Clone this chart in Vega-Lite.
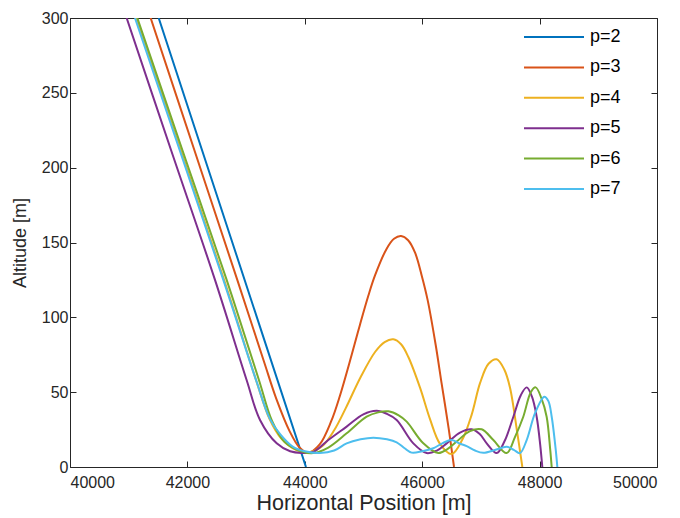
{
  "$schema": "https://vega.github.io/schema/vega-lite/v6.json",
  "width": 587,
  "height": 449,
  "autosize": {"type": "none"},
  "padding": {"left": 70, "top": 18, "right": 23, "bottom": 51},
  "background": "white",
  "config": {
    "view": {"stroke": null},
    "font": "Liberation Sans",
    "axis": {
      "grid": false,
      "domainColor": "#262626",
      "tickColor": "#262626",
      "labelColor": "#262626",
      "titleColor": "#262626",
      "labelFont": "Liberation Sans",
      "titleFont": "Liberation Sans",
      "titleFontWeight": "normal",
      "labelFontSize": 16,
      "tickSize": -6,
      "domainWidth": 1,
      "tickWidth": 1
    }
  },
  "datasets": {
    "curves": [
      {"p": "p=2", "x": 41511, "alt": 300},
      {"p": "p=2", "x": 42749, "alt": 152},
      {"p": "p=2", "x": 44020, "alt": 0},

      {"p": "p=3", "x": 41374, "alt": 300},
      {"p": "p=3", "x": 42118, "alt": 211.8},
      {"p": "p=3", "x": 42850, "alt": 125},
      {"p": "p=3", "x": 43300, "alt": 71},
      {"p": "p=3", "x": 43520, "alt": 45},
      {"p": "p=3", "x": 43740, "alt": 24},
      {"p": "p=3", "x": 43910, "alt": 13},
      {"p": "p=3", "x": 44055, "alt": 9.5},
      {"p": "p=3", "x": 44250, "alt": 14.9},
      {"p": "p=3", "x": 44450, "alt": 30.6},
      {"p": "p=3", "x": 44600, "alt": 47.8},
      {"p": "p=3", "x": 44800, "alt": 75.1},
      {"p": "p=3", "x": 44940, "alt": 95.1},
      {"p": "p=3", "x": 45082, "alt": 114.4},
      {"p": "p=3", "x": 45196, "alt": 128},
      {"p": "p=3", "x": 45395, "alt": 145.9},
      {"p": "p=3", "x": 45520, "alt": 152.5},
      {"p": "p=3", "x": 45640, "alt": 154.3},
      {"p": "p=3", "x": 45760, "alt": 151.5},
      {"p": "p=3", "x": 45880, "alt": 143},
      {"p": "p=3", "x": 45991, "alt": 128},
      {"p": "p=3", "x": 46093, "alt": 111.5},
      {"p": "p=3", "x": 46230, "alt": 81.5},
      {"p": "p=3", "x": 46330, "alt": 56},
      {"p": "p=3", "x": 46450, "alt": 26},
      {"p": "p=3", "x": 46542, "alt": 0},

      {"p": "p=4", "x": 41125, "alt": 300},
      {"p": "p=4", "x": 42625, "alt": 125},
      {"p": "p=4", "x": 43170, "alt": 58},
      {"p": "p=4", "x": 43400, "alt": 32},
      {"p": "p=4", "x": 43600, "alt": 19},
      {"p": "p=4", "x": 43850, "alt": 11.5},
      {"p": "p=4", "x": 44089, "alt": 10},
      {"p": "p=4", "x": 44300, "alt": 14},
      {"p": "p=4", "x": 44500, "alt": 24.5},
      {"p": "p=4", "x": 44700, "alt": 39.5},
      {"p": "p=4", "x": 44950, "alt": 60},
      {"p": "p=4", "x": 45200, "alt": 77},
      {"p": "p=4", "x": 45360, "alt": 83.5},
      {"p": "p=4", "x": 45508, "alt": 85.3},
      {"p": "p=4", "x": 45640, "alt": 82},
      {"p": "p=4", "x": 45764, "alt": 73.5},
      {"p": "p=4", "x": 45963, "alt": 53},
      {"p": "p=4", "x": 46133, "alt": 32},
      {"p": "p=4", "x": 46303, "alt": 15.5},
      {"p": "p=4", "x": 46502, "alt": 8.7},
      {"p": "p=4", "x": 46680, "alt": 18},
      {"p": "p=4", "x": 46843, "alt": 35},
      {"p": "p=4", "x": 46985, "alt": 56},
      {"p": "p=4", "x": 47130, "alt": 69},
      {"p": "p=4", "x": 47269, "alt": 72},
      {"p": "p=4", "x": 47400, "alt": 65},
      {"p": "p=4", "x": 47496, "alt": 53},
      {"p": "p=4", "x": 47621, "alt": 22.5},
      {"p": "p=4", "x": 47706, "alt": 0},

      {"p": "p=5", "x": 40965, "alt": 300},
      {"p": "p=5", "x": 41721, "alt": 211.8},
      {"p": "p=5", "x": 42470, "alt": 125},
      {"p": "p=5", "x": 43010, "alt": 58},
      {"p": "p=5", "x": 43237, "alt": 31.4},
      {"p": "p=5", "x": 43521, "alt": 15.8},
      {"p": "p=5", "x": 43750, "alt": 10.5},
      {"p": "p=5", "x": 43947, "alt": 9.4},
      {"p": "p=5", "x": 44150, "alt": 10.2},
      {"p": "p=5", "x": 44400, "alt": 18},
      {"p": "p=5", "x": 44713, "alt": 27},
      {"p": "p=5", "x": 44997, "alt": 35.2},
      {"p": "p=5", "x": 45225, "alt": 37.6},
      {"p": "p=5", "x": 45400, "alt": 35.5},
      {"p": "p=5", "x": 45565, "alt": 31.4},
      {"p": "p=5", "x": 45849, "alt": 15.8},
      {"p": "p=5", "x": 46076, "alt": 9.3},
      {"p": "p=5", "x": 46250, "alt": 11},
      {"p": "p=5", "x": 46417, "alt": 15.8},
      {"p": "p=5", "x": 46644, "alt": 23},
      {"p": "p=5", "x": 46843, "alt": 25.2},
      {"p": "p=5", "x": 46980, "alt": 22},
      {"p": "p=5", "x": 47099, "alt": 15.8},
      {"p": "p=5", "x": 47269, "alt": 9.3},
      {"p": "p=5", "x": 47400, "alt": 17},
      {"p": "p=5", "x": 47553, "alt": 33.6},
      {"p": "p=5", "x": 47680, "alt": 48},
      {"p": "p=5", "x": 47780, "alt": 53.2},
      {"p": "p=5", "x": 47870, "alt": 47},
      {"p": "p=5", "x": 47950, "alt": 33.6},
      {"p": "p=5", "x": 48010, "alt": 15},
      {"p": "p=5", "x": 48046, "alt": 0},

      {"p": "p=6", "x": 41147, "alt": 300},
      {"p": "p=6", "x": 41914, "alt": 211.8},
      {"p": "p=6", "x": 42669, "alt": 125},
      {"p": "p=6", "x": 43220, "alt": 58},
      {"p": "p=6", "x": 43440, "alt": 31},
      {"p": "p=6", "x": 43650, "alt": 17},
      {"p": "p=6", "x": 43900, "alt": 11},
      {"p": "p=6", "x": 44140, "alt": 9.3},
      {"p": "p=6", "x": 44400, "alt": 13},
      {"p": "p=6", "x": 44713, "alt": 22.5},
      {"p": "p=6", "x": 45054, "alt": 33.6},
      {"p": "p=6", "x": 45250, "alt": 36.5},
      {"p": "p=6", "x": 45423, "alt": 37.2},
      {"p": "p=6", "x": 45600, "alt": 34.5},
      {"p": "p=6", "x": 45736, "alt": 30.3},
      {"p": "p=6", "x": 46019, "alt": 15.8},
      {"p": "p=6", "x": 46274, "alt": 9.3},
      {"p": "p=6", "x": 46430, "alt": 12},
      {"p": "p=6", "x": 46587, "alt": 17},
      {"p": "p=6", "x": 46814, "alt": 24},
      {"p": "p=6", "x": 47013, "alt": 25.2},
      {"p": "p=6", "x": 47212, "alt": 18},
      {"p": "p=6", "x": 47439, "alt": 9.3},
      {"p": "p=6", "x": 47580, "alt": 20},
      {"p": "p=6", "x": 47722, "alt": 33.6},
      {"p": "p=6", "x": 47850, "alt": 50},
      {"p": "p=6", "x": 47933, "alt": 53.2},
      {"p": "p=6", "x": 48030, "alt": 46},
      {"p": "p=6", "x": 48120, "alt": 33.6},
      {"p": "p=6", "x": 48180, "alt": 12},
      {"p": "p=6", "x": 48206, "alt": 0},

      {"p": "p=7", "x": 41107, "alt": 300},
      {"p": "p=7", "x": 42612, "alt": 125},
      {"p": "p=7", "x": 43170, "alt": 58},
      {"p": "p=7", "x": 43407, "alt": 32},
      {"p": "p=7", "x": 43580, "alt": 22},
      {"p": "p=7", "x": 43800, "alt": 13.5},
      {"p": "p=7", "x": 44000, "alt": 10.5},
      {"p": "p=7", "x": 44259, "alt": 9.3},
      {"p": "p=7", "x": 44500, "alt": 11},
      {"p": "p=7", "x": 44713, "alt": 15.8},
      {"p": "p=7", "x": 44950, "alt": 18.5},
      {"p": "p=7", "x": 45167, "alt": 19.6},
      {"p": "p=7", "x": 45400, "alt": 18.5},
      {"p": "p=7", "x": 45565, "alt": 16.5},
      {"p": "p=7", "x": 45700, "alt": 12.5},
      {"p": "p=7", "x": 45820, "alt": 9.6},
      {"p": "p=7", "x": 46000, "alt": 10.5},
      {"p": "p=7", "x": 46189, "alt": 12.5},
      {"p": "p=7", "x": 46350, "alt": 16},
      {"p": "p=7", "x": 46502, "alt": 18},
      {"p": "p=7", "x": 46650, "alt": 15.5},
      {"p": "p=7", "x": 46757, "alt": 14},
      {"p": "p=7", "x": 46900, "alt": 11},
      {"p": "p=7", "x": 47041, "alt": 9.5},
      {"p": "p=7", "x": 47250, "alt": 11.5},
      {"p": "p=7", "x": 47439, "alt": 13.5},
      {"p": "p=7", "x": 47560, "alt": 11.5},
      {"p": "p=7", "x": 47666, "alt": 9.3},
      {"p": "p=7", "x": 47780, "alt": 18},
      {"p": "p=7", "x": 47922, "alt": 36},
      {"p": "p=7", "x": 48080, "alt": 47},
      {"p": "p=7", "x": 48150, "alt": 44},
      {"p": "p=7", "x": 48206, "alt": 33.6},
      {"p": "p=7", "x": 48279, "alt": 10},
      {"p": "p=7", "x": 48302, "alt": 0}
    ]
  },
  "data": {"name": "curves"},
  "layer": [
    {
      "mark": {"type": "line", "strokeWidth": 2, "interpolate": "catmull-rom", "clip": true},
      "encoding": {
        "x": {
          "field": "x", "type": "quantitative",
          "scale": {"domain": [40000, 50000], "nice": false, "zero": false},
          "axis": {
            "values": [40000, 42000, 44000, 46000, 48000, 50000],
            "format": "d",
            "title": "Horizontal Position [m]",
            "titleFontSize": 21.5,
            "labelPadding": 13,
            "titlePadding": 2
          }
        },
        "y": {
          "field": "alt", "type": "quantitative",
          "scale": {"domain": [0, 300], "nice": false},
          "axis": {
            "values": [0, 50, 100, 150, 200, 250, 300],
            "title": "Altitude [m]",
            "titleFontSize": 18,
            "labelPadding": 8,
            "titlePadding": 12
          }
        },
        "color": {
          "field": "p", "type": "nominal",
          "scale": {
            "domain": ["p=2", "p=3", "p=4", "p=5", "p=6", "p=7"],
            "range": ["#0072BD", "#D95319", "#EDB120", "#7E2F8E", "#77AC30", "#4DBEEE"]
          },
          "legend": {
            "orient": "none",
            "legendX": 473,
            "legendY": 8,
            "title": null,
            "symbolType": "M-3,0H3",
            "symbolSize": 400,
            "symbolStrokeWidth": 2,
            "labelFontSize": 18,
            "labelFont": "Liberation Sans",
            "labelColor": "#000000",
            "rowPadding": 10.4,
            "labelOffset": 25,
            "padding": 0
          }
        }
      }
    },
    {
      "mark": {"type": "line", "opacity": 0},
      "encoding": {
        "x": {
          "field": "x", "type": "quantitative",
          "scale": {"domain": [40000, 50000], "nice": false, "zero": false},
          "axis": {"orient": "top", "values": [40000, 42000, 44000, 46000, 48000, 50000], "labels": false, "title": null}
        },
        "y": {
          "field": "alt", "type": "quantitative",
          "scale": {"domain": [0, 300], "nice": false},
          "axis": {"orient": "right", "values": [0, 50, 100, 150, 200, 250, 300], "labels": false, "title": null}
        }
      }
    }
  ],
  "resolve": {"axis": {"x": "independent", "y": "independent"}}
}
